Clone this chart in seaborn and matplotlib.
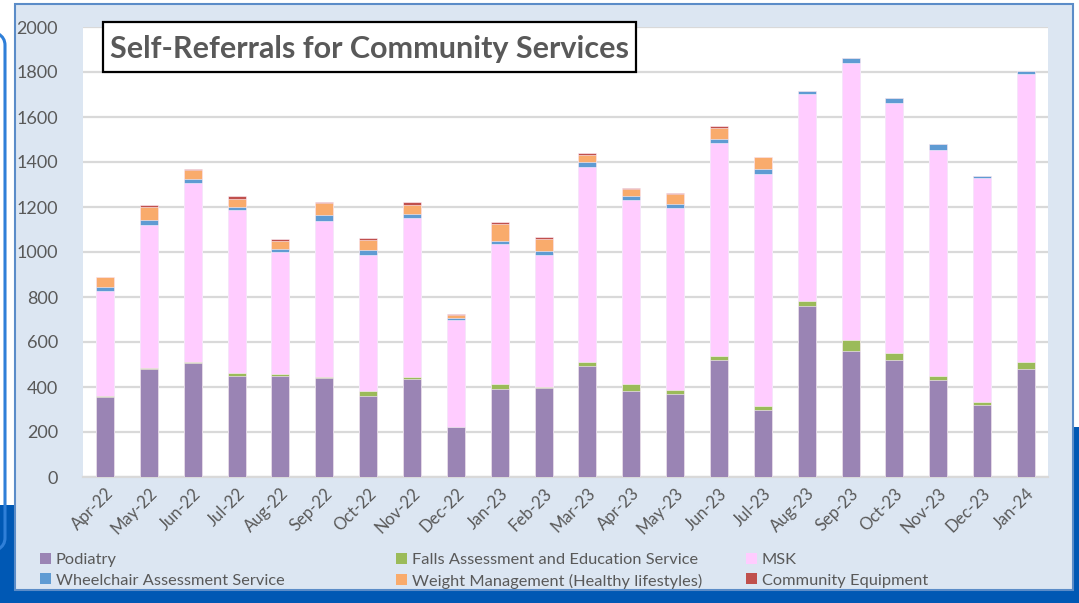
import numpy as np
import pandas as pd
import seaborn as sns
import matplotlib
matplotlib.use("Agg")
import matplotlib.pyplot as plt
from matplotlib.patches import Rectangle, FancyBboxPatch, Patch

# Monthly self-referrals by service
months = ["Apr-22", "May-22", "Jun-22", "Jul-22", "Aug-22", "Sep-22", "Oct-22", "Nov-22",
          "Dec-22", "Jan-23", "Feb-23", "Mar-23", "Apr-23", "May-23", "Jun-23", "Jul-23",
          "Aug-23", "Sep-23", "Oct-23", "Nov-23", "Dec-23", "Jan-24"]
podiatry = [357, 480, 507, 450, 447, 440, 360, 434, 221, 390, 396, 493, 381, 369, 520, 297,
            761, 562, 521, 432, 319, 482]
falls = [2, 4, 4, 11, 9, 4, 21, 12, 1, 25, 5, 20, 31, 18, 18, 17,
         21, 45, 31, 19, 13, 31]
msk = [468, 637, 797, 724, 542, 694, 606, 704, 474, 622, 584, 867, 818, 808, 947, 1032,
       920, 1233, 1112, 1002, 996, 1278]
wheelchair = [16, 21, 15, 16, 14, 25, 20, 19, 11, 12, 19, 20, 21, 20, 19, 21,
              14, 21, 19, 25, 8, 15]
weight = [46, 56, 40, 33, 35, 53, 45, 41, 11, 75, 54, 33, 29, 43, 49, 55,
          0, 0, 0, 0, 0, 0]
equipment = [2, 9, 5, 15, 9, 5, 12, 12, 5, 9, 7, 6, 5, 6, 6, 0,
             0, 0, 0, 0, 0, 0]

series = ["Podiatry", "Falls Assessment and Education Service", "MSK",
          "Wheelchair Assessment Service", "Weight Management (Healthy lifestyles)",
          "Community Equipment"]
colors = ["#9A84B4", "#9BBB59", "#FFCCFF", "#5F9BD3", "#F9AB6C", "#C0504D"]

df = pd.DataFrame({"Month": months, series[0]: podiatry, series[1]: falls, series[2]: msk,
                   series[3]: wheelchair, series[4]: weight, series[5]: equipment})

sns.set_style("white")
plt.rcParams["font.family"] = ["Lato", "DejaVu Sans"]

W, H = 1079, 603
fig = plt.figure(figsize=(W / 100, H / 100), dpi=100, facecolor="white")


def fx(x):
    return x / W


def fy(y):
    return 1 - y / H


def rect_px(x0, y0, x1, y1, **kw):
    return Rectangle((fx(x0), fy(y1)), fx(x1) - fx(x0), fy(y0) - fy(y1),
                     transform=fig.transFigure, **kw)


dark = "#0058B4"
# slide background pieces around the chart
fig.patches.append(rect_px(0, 505, 20, 603, facecolor=dark, edgecolor="none", zorder=-20))
fig.patches.append(rect_px(1060, 427, 1079, 603, facecolor=dark, edgecolor="none", zorder=-20))
fig.patches.append(rect_px(0, 589, 1079, 603, facecolor=dark, edgecolor="none", zorder=-20))
fig.patches.append(FancyBboxPatch((fx(-60), fy(553)), fx(65), fy(30) - fy(553),
                                  boxstyle="round,pad=0,rounding_size=0.025",
                                  transform=fig.transFigure, facecolor="none",
                                  edgecolor="#2F7FD8", lw=2.2, zorder=-19))
# chart frame
fig.patches.append(rect_px(15, 4, 1073, 590, facecolor="#DCE6F2", edgecolor="#5B8CC8",
                           lw=1.5, zorder=-10))

ax = fig.add_axes([fx(83), fy(477), fx(1048) - fx(83), fy(27) - fy(477)])
ax.set_facecolor("white")

# stacked bars: draw cumulative totals from the top series down
cum = df[series].cumsum(axis=1)
for name, col in reversed(list(zip(series, colors))):
    sns.barplot(x=df["Month"], y=cum[name], color=col, width=0.41, ax=ax,
                edgecolor="#FFF4FF", linewidth=0.4, saturation=1, zorder=3)

ax.set_ylim(0, 2000)
ax.set_xlim(-0.5, len(months) - 0.5)
ax.set_yticks(np.arange(0, 2001, 200))
ax.yaxis.grid(True, color="#D9D9D9", lw=1.6, zorder=0)
ax.set_axisbelow(True)
for s in ["top", "left", "right"]:
    ax.spines[s].set_visible(False)
ax.spines["bottom"].set_color("#D9D9D9")
ax.spines["bottom"].set_linewidth(1.6)
ax.set_xlabel("")
ax.set_ylabel("")
ax.tick_params(axis="y", length=0, pad=18, labelsize=13, labelcolor="#595959")
ax.tick_params(axis="x", length=0, pad=6, labelsize=12, labelcolor="#595959")
plt.setp(ax.get_xticklabels(), rotation=45, ha="right", rotation_mode="anchor")

# title box
fig.patches.append(rect_px(103, 22, 636, 72, facecolor="white", edgecolor="black",
                           lw=1.6, zorder=5))
fig.text(fx(369.5), fy(49), "Self-Referrals for Community Services", ha="center",
         va="center", fontsize=22, fontweight="bold", color="#595959", zorder=6)

# legend in three columns of two rows
handles = [Patch(facecolor=c, edgecolor="none") for c in colors]
cols = [(40, [0, 3]), (396, [1, 4]), (746, [2, 5])]
for x0, idx in cols:
    fig.legend([handles[i] for i in idx], [series[i] for i in idx],
               loc="upper left", bbox_to_anchor=(fx(x0), fy(553)), frameon=False,
               fontsize=11.8, labelcolor="#595959", handlelength=0.65,
               handleheight=0.65, handletextpad=0.3, labelspacing=0.38,
               borderpad=0, borderaxespad=0)

fig.savefig("out.png", dpi=100, facecolor=fig.get_facecolor())
